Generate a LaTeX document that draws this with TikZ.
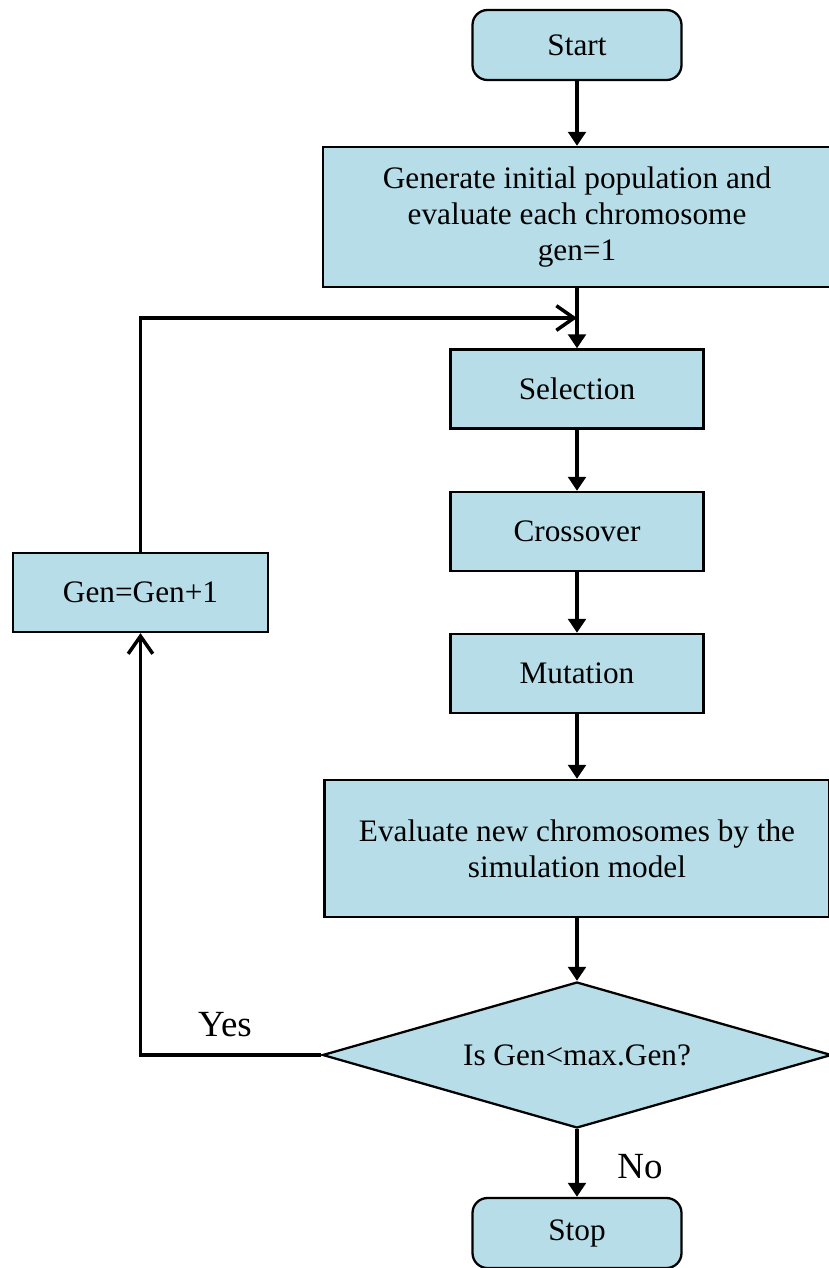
\documentclass[tikz,border=0pt]{standalone}
\usepackage{fontspec}
\setmainfont{Liberation Serif}
\usetikzlibrary{shapes.geometric,arrows.meta}
\definecolor{boxblue}{HTML}{B7DEE8}
\begin{document}
\begin{tikzpicture}[every node/.style = {font=\fontsize{17.8}{20.6}\selectfont}]
\tikzstyle{terminal} = [draw,fill=boxblue,line width=1.3pt,rounded corners=0.3cm,minimum width=4.18cm,minimum height=1.4cm]
\tikzstyle{process} = [draw,fill=boxblue,line width=1.3pt,minimum width=5.06cm,minimum height=1.58cm,align=center]
\tikzstyle{decision} = [draw,fill=boxblue,line width=1.3pt,diamond,aspect=3.49,minimum width=10.18cm,minimum height=2.92cm,inner sep=0pt]
\tikzstyle{flow} = [line width=2pt,-{Triangle[length=8pt,width=10pt]}]
\tikzstyle{back} = [line width=2pt,-{Straight Barb[length=10pt,width=14pt]}]
\tikzstyle{answer} = [font=\fontsize{21}{24}\selectfont]

\useasboundingbox (0,0) rectangle (16.58,-25.36);

\node [terminal] (v1) at (11.54,-0.9) {Start};
\node [process,minimum width=10.16cm,minimum height=2.8cm] (v2) at (11.54,-4.34) {Generate initial population and\\evaluate each chromosome\\gen=1};
\node [process] (v3) at (11.54,-7.78) {Selection};
\node [process] (v4) at (11.54,-10.63) {Crossover};
\node [process] (v5) at (11.54,-13.47) {Mutation};
\node [process,minimum width=10.1cm,minimum height=2.74cm] (v6) at (11.54,-16.97) {Evaluate new chromosomes by the\\simulation model};
\node [decision] (v7) at (11.54,-21.1) {Is Gen<max.Gen?};
\node [terminal] (v8) at (11.54,-24.66) {Stop};
\node [process,minimum width=5.1cm] (v9) at (2.81,-11.85) {Gen=Gen+1};
\coordinate (v10) at (11.54,-6.36);

\draw [flow] (v1) -- (v2);
\draw [flow] (v2) -- (v3);
\draw [flow] (v3) -- (v4);
\draw [flow] (v4) -- (v5);
\draw [flow] (v5) -- (v6);
\draw [flow] (v6) -- (v7);
\draw [flow] (v7) -- (v8);

% loop back to selection
\draw [back] (v7.west) -| (v9);
\draw [back] (v9) |- (v10);
\node [answer] (v11) at (4.5,-20.5) {Yes};
\node [answer] (v12) at (12.8,-23.34) {No};
\end{tikzpicture}
\end{document}
